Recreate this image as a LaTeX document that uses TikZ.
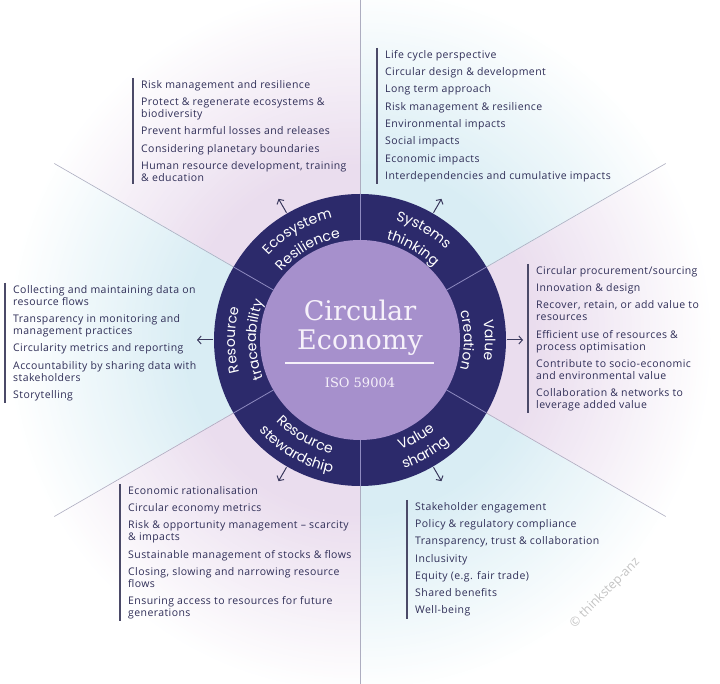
\documentclass[tikz,border=0pt]{standalone}
\usepackage{fontspec}
\setmainfont{DejaVu Serif}
\newfontfamily\listfont[LetterSpace=4]{Open Sans}
\newfontfamily\markfont{Open Sans}
\newfontfamily\ringfont{Poppins}
\usepackage{tikz}
\usetikzlibrary{arrows.meta,decorations.text}
\definecolor{ringnavy}{HTML}{2C2A6B}
\definecolor{innerlav}{HTML}{A690CC}
\definecolor{centertxt}{HTML}{F6F1FA}
\definecolor{ringline}{HTML}{8F8BC0}
\definecolor{linegray}{HTML}{ADADC0}
\definecolor{listnavy}{HTML}{2F2E57}
\definecolor{barnavy}{HTML}{4B4A68}
\definecolor{arrownavy}{HTML}{3B3A5E}
\definecolor{bgpink}{HTML}{EADDEE}
\definecolor{bgblue}{HTML}{D9EDF4}
\definecolor{markgray}{HTML}{C4C4C4}
% curved label in the ring: radius, start angle, end angle, word
\newcommand{\ringlabel}[4]{\path[decorate, decoration={text along path, text align=center, text={|\ringfont\fontsize{14}{14}\selectfont\color{white}|#4}}] (#2:#1) arc[start angle=#2, end angle=#3, radius=#1];}

\begin{document}
\begin{tikzpicture}[x=1pt, y=1pt,
  listbox/.style={anchor=north west, align=left, inner xsep=8pt, inner ysep=2pt, text=listnavy, font=\listfont\fontsize{10.5}{12}\selectfont},
  listbar/.style={draw=barnavy, line width=1.3pt},
  outarrow/.style={-{Straight Barb[length=3.5pt, width=8pt]}, line width=1pt, arrownavy},
  divider/.style={linegray, line width=0.6pt},
  centre/.style={anchor=base, text=centertxt}]
 \useasboundingbox[fill=white] (0,0) rectangle (720,683);
 \coordinate (C) at (360,343);
 \begin{scope}[shift={(C)}]
  % soft coloured glow behind each sector
  \foreach \a/\col in {90/bgpink,150/bgblue,210/bgpink,270/bgblue,330/bgpink,30/bgblue}{
   \begin{scope}
    \clip (0,0) -- (\a:900) -- (\a+30:900) -- (\a+60:900) -- cycle;
    \foreach \r in {356,353,...,140}{
     \pgfmathtruncatemacro{\p}{min(100,max(0,(355-\r)/1.8))}
     \fill[\col!\p!white] (0,0) circle (\r);}
   \end{scope}}
  \foreach \a in {150,30,-30,-150} \draw[divider] (0,0) -- (\a:353);
  \draw[divider] (0,0) -- (90:345) (0,0) -- (-90:345);
  % ring and centre
  \fill[ringnavy] (0,0) circle (146);
  \foreach \a in {90,30,-30,-90,-150,150} \draw[ringline, line width=0.8pt] (\a:100) -- (\a:146);
  \fill[innerlav] (0,0) circle (100);
  \node[centre, font=\fontsize{27}{27}\selectfont] (title1) at (0,19) {Circular};
  \node[centre, font=\fontsize{27}{27}\selectfont] (title2) at (0,-10) {Economy};
  \draw[centertxt, line width=1.4pt] (-75,-23) -- (74,-23);
  \node[centre, font=\fontsize{13}{13}\selectfont] (iso) at (0,-48) {ISO 59004};
  \ringlabel{125}{150}{90}{Ecosystem}
  \ringlabel{104}{150}{90}{Resilience}
  \ringlabel{125}{90}{30}{Systems}
  \ringlabel{104}{90}{30}{thinking}
  \ringlabel{125}{30}{-30}{Value}
  \ringlabel{104}{30}{-30}{creation}
  \ringlabel{125}{210}{150}{Resource}
  \ringlabel{104}{210}{150}{traceability}
  \ringlabel{117}{-90}{-30}{Value}
  \ringlabel{136}{-90}{-30}{sharing}
  \ringlabel{117}{-150}{-90}{Resource}
  \ringlabel{136}{-150}{-90}{stewardship}
  \foreach \a/\nm in {120/eco,60/sys,0/vcre,-60/vsha,-120/stew,180/trace}{
   \coordinate (\nm-from) at (\a:147);
   \coordinate (\nm-to) at (\a:163);
   \draw[outarrow] (\nm-from) -- (\nm-to);}
 \end{scope}
 % the six lists
 \node[listbox] (eco) at (133,605) {Risk management and resilience\\[5.3pt]
  Protect \& regenerate ecosystems \&\\ biodiversity\\[5.3pt]
  Prevent harmful losses and releases\\[5.3pt]
  Considering planetary boundaries\\[5.3pt]
  Human resource development, training\\ \& education};
 \node[listbox] (sys) at (377,635) {Life cycle perspective\\[5.3pt]
  Circular design \& development\\[5.3pt]
  Long term approach\\[5.3pt]
  Risk management \& resilience\\[5.3pt]
  Environmental impacts\\[5.3pt]
  Social impacts\\[5.3pt]
  Economic impacts\\[5.3pt]
  Interdependencies and cumulative impacts};
 \node[listbox] (trace) at (5,400) {Collecting and maintaining data on\\ resource flows\\[5.3pt]
  Transparency in monitoring and\\ management practices\\[5.3pt]
  Circularity metrics and reporting\\[5.3pt]
  Accountability by sharing data with\\ stakeholders\\[5.3pt]
  Storytelling};
 \node[listbox] (vcre) at (528,419) {Circular procurement/sourcing\\[5.3pt]
  Innovation \& design\\[5.3pt]
  Recover, retain, or add value to\\ resources\\[5.3pt]
  Efficient use of resources \&\\ process optimisation\\[5.3pt]
  Contribute to socio-economic\\ and environmental value\\[5.3pt]
  Collaboration \& networks to\\ leverage added value};
 \node[listbox] (stew) at (120,199) {Economic rationalisation\\[5.3pt]
  Circular economy metrics\\[5.3pt]
  Risk \& opportunity management – scarcity\\ \& impacts\\[5.3pt]
  Sustainable management of stocks \& flows\\[5.3pt]
  Closing, slowing and narrowing resource\\ flows\\[5.3pt]
  Ensuring access to resources for future\\ generations};
 \node[listbox] (vsha) at (407,183) {Stakeholder engagement\\[5.3pt]
  Policy \& regulatory compliance\\[5.3pt]
  Transparency, trust \& collaboration\\[5.3pt]
  Inclusivity\\[5.3pt]
  Equity (e.g. fair trade)\\[5.3pt]
  Shared benefits\\[5.3pt]
  Well-being};
 \foreach \n in {eco,sys,trace,vcre,stew,vsha} \draw[listbar] (\n.north west) -- (\n.south west);
 \node[rotate=45, text=markgray, font=\markfont\fontsize{12.5}{12.5}\selectfont] (mark) at (605,90) {© thinkstep-anz};
\end{tikzpicture}
\end{document}
